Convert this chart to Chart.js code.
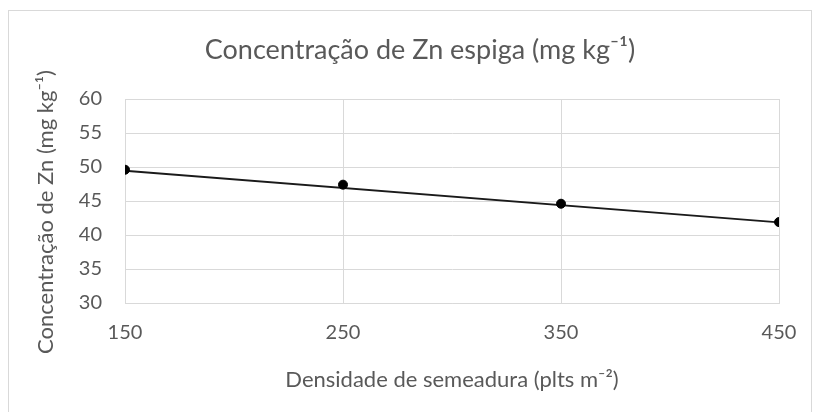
<!DOCTYPE html>
<html>
<head>
<meta charset="utf-8">
<script src="https://cdn.jsdelivr.net/npm/chart.js@4"></script>
<style>
  html, body { margin: 0; padding: 0; background: #fff; }
  .wrap { position: relative; width: 815px; height: 412px; overflow: hidden; }
  .frame { position: absolute; left: 8px; top: 10px; width: 804px; height: 410px; border: 1px solid #d9d9d9; box-sizing: border-box; }
  canvas { position: absolute; left: 0; top: 0; }
</style>
</head>
<body>
<div class="wrap">
  <div class="frame"></div>
  <canvas id="znChart" width="815" height="412"></canvas>
</div>
<script>
// dados
const densidades = [150, 250, 350, 450];
const concentracaoZn = [49.6, 47.4, 44.6, 41.9];
const tendenciaX = [150, 450];
const tendenciaY = [49.45, 41.85];
const xTicks = [150, 250, 350, 450];
const yTicks = [30, 35, 40, 45, 50, 55, 60];

const tituloGrafico = 'Concentração de Zn espiga (mg kg⁻¹)';
const tituloY = 'Concentração de Zn (mg kg⁻¹)';
const tituloX = 'Densidade de semeadura (plts m⁻²)';

const txt = '#595959';
const grade = '#d9d9d9';
const fonte = 'Lato, "Open Sans", sans-serif';

// título do gráfico e do eixo y, posicionados como no Excel
const textos = {
  id: 'textos',
  afterDraw(chart) {
    const c = chart.ctx;
    c.save();
    c.fillStyle = txt;
    c.textAlign = 'center';
    c.textBaseline = 'middle';
    c.font = '27px ' + fonte;
    c.fillText(tituloGrafico, 420, 50);
    c.translate(46, 212);
    c.rotate(-Math.PI / 2);
    c.font = '22px ' + fonte;
    c.fillText(tituloY, 0, 0);
    c.restore();
  }
};

const ctx = document.getElementById('znChart').getContext('2d');
new Chart(ctx, {
  type: 'scatter',
  data: {
    datasets: [
      {
        label: 'Zn',
        data: densidades.map((d, i) => ({ x: d, y: concentracaoZn[i] })),
        backgroundColor: '#000',
        borderColor: '#000',
        pointRadius: 4.5,
        showLine: false
      },
      {
        label: 'Linear',
        data: tendenciaX.map((d, i) => ({ x: d, y: tendenciaY[i] })),
        borderColor: '#1a1a1a',
        borderWidth: 1.8,
        pointRadius: 0,
        showLine: true
      }
    ]
  },
  options: {
    responsive: false,
    animation: false,
    layout: { padding: { left: 0, right: 36, top: 99, bottom: 0 } },
    scales: {
      x: {
        type: 'linear',
        min: 150,
        max: 450,
        afterBuildTicks: s => { s.ticks = xTicks.map(v => ({ value: v })); },
        afterFit: s => { s.height = 109; },
        ticks: { color: txt, font: { family: fonte, size: 20 }, padding: 18 },
        grid: { color: grade, drawTicks: false },
        border: { color: grade },
        title: {
          display: true,
          text: tituloX,
          color: txt,
          font: { family: fonte, size: 22 },
          padding: { top: 0, bottom: 19 }
        }
      },
      y: {
        min: 30,
        max: 60,
        afterBuildTicks: s => { s.ticks = yTicks.map(v => ({ value: v })); },
        afterFit: s => { s.width = 125; },
        ticks: { color: txt, font: { family: fonte, size: 20 }, padding: 23 },
        grid: { color: grade, drawTicks: false },
        border: { color: grade }
      }
    },
    plugins: {
      legend: { display: false },
      tooltip: { enabled: false }
    }
  },
  plugins: [textos]
});
</script>
</body>
</html>
